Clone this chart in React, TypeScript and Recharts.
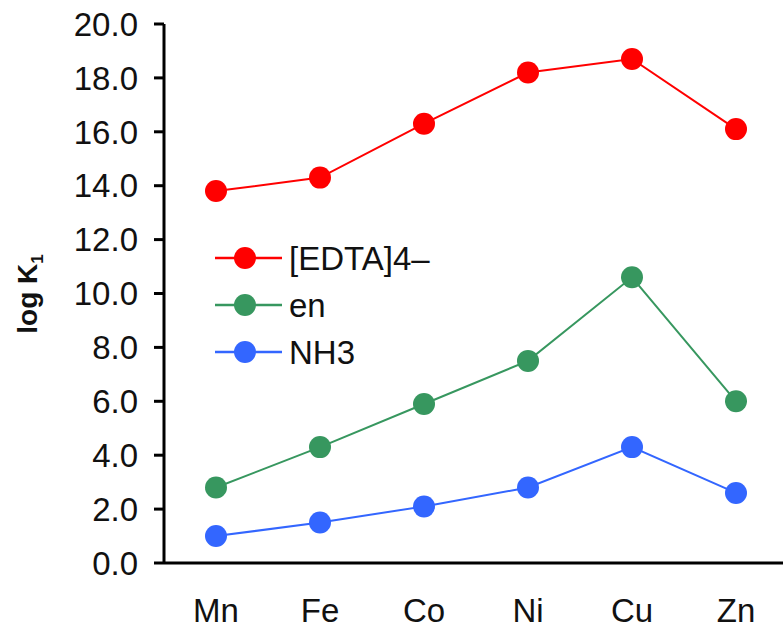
import { LineChart, Line, XAxis, YAxis, Legend } from 'recharts'

const metals = ['Mn', 'Fe', 'Co', 'Ni', 'Cu', 'Zn']
const edta = [13.8, 14.3, 16.3, 18.2, 18.7, 16.1]
const en = [2.8, 4.3, 5.9, 7.5, 10.6, 6.0]
const nh3 = [1.0, 1.5, 2.1, 2.8, 4.3, 2.6]
const yTicks = [0, 2, 4, 6, 8, 10, 12, 14, 16, 18, 20]

const data = metals.map((m, i) => ({ metal: m, edta: edta[i], en: en[i], nh3: nh3[i] }))

const FONT = '"Liberation Sans", Arial, sans-serif'

const series = [
  { key: 'edta', name: '[EDTA]4–', color: '#FF0000' },
  { key: 'en', name: 'en', color: '#37975F' },
  { key: 'nh3', name: 'NH3', color: '#3366FF' },
]

function LegendBox() {
  return (
    <svg width={260} height={140} style={{ fontFamily: FONT, display: 'block' }}>
      {series.map((s, i) => {
        const y = 20 + i * 47
        return (
          <g key={s.key}>
            <line x1={3} x2={70} y1={y} y2={y} stroke={s.color} strokeWidth={2.5} />
            <circle cx={33} cy={y} r={11} fill={s.color} />
            <text x={77} y={y} dy="0.36em" fontSize={33} fill="#111">
              {s.name}
            </text>
          </g>
        )
      })}
    </svg>
  )
}

function YLabel() {
  return (
    <text
      x={27}
      y={294}
      transform="rotate(-90 27 294)"
      textAnchor="middle"
      dy="0.36em"
      fontSize={28}
      fontWeight="bold"
      fontFamily={FONT}
      fill="#111"
    >
      log K<tspan fontSize={17} dy="6">1</tspan>
    </text>
  )
}

export default function App() {
  return (
    <div style={{ position: 'absolute', left: 0, top: 0, width: 783, height: 631, overflow: 'hidden', background: '#fff' }}>
      <LineChart width={788} height={631} data={data} margin={{ top: 24, right: 0, bottom: 0, left: 0 }}>
        <XAxis
          dataKey="metal"
          stroke="#000"
          strokeWidth={3}
          tickLine={false}
          tickSize={0}
          tickMargin={36}
          height={68}
          padding={{ left: 52, right: 52 }}
          tick={{ fill: '#111', fontSize: 33, fontFamily: FONT }}
          interval={0}
        />
        <YAxis
          domain={[0, 20]}
          ticks={yTicks}
          interval={0}
          tickFormatter={(v: number) => v.toFixed(1)}
          stroke="#000"
          strokeWidth={3}
          tickLine={{ stroke: '#000', strokeWidth: 3 }}
          tickSize={10}
          tickMargin={16}
          width={164}
          tick={{ fill: '#111', fontSize: 33, fontFamily: FONT }}
          label={<YLabel />}
        />
        <Legend
          content={<LegendBox />}
          layout="vertical"
          verticalAlign="middle"
          align="center"
          wrapperStyle={{ left: 212, top: 238, width: 260, height: 140 }}
        />
        {series.map((s) => (
          <Line
            key={s.key}
            type="linear"
            dataKey={s.key}
            name={s.name}
            stroke={s.color}
            strokeWidth={2}
            dot={{ r: 11, fill: s.color, stroke: s.color, strokeWidth: 0 }}
            activeDot={false}
            isAnimationActive={false}
          />
        ))}
      </LineChart>
    </div>
  )
}
